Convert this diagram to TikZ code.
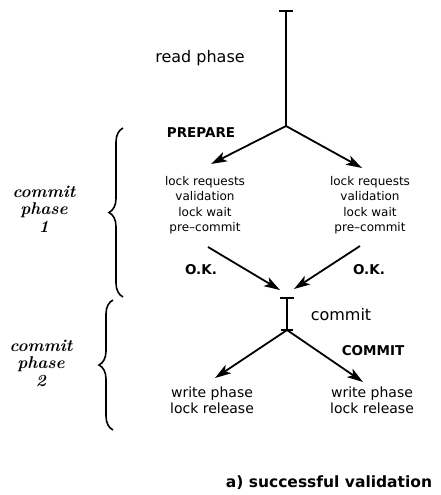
\documentclass[tikz,border=0pt]{standalone}
\usepackage{fontspec}
\newfontfamily\dv{DejaVu Sans}
\usetikzlibrary{arrows.meta,decorations.pathreplacing,calc}
\tikzset{
  conn/.style={line width=1.8pt},
  arr/.style={line width=1.8pt,-{Stealth[length=16pt,width=10pt,inset=4pt]}},
  tickline/.style={line width=1.6pt},
  lbl/.style={inner sep=0pt,font=\dv\fontsize{12}{15.5}\selectfont,align=center},
  lblbig/.style={inner sep=0pt,font=\dv\fontsize{16}{18}\selectfont},
  lblb/.style={inner sep=0pt,font=\dv\bfseries\fontsize{13.5}{16}\selectfont},
  wlbl/.style={inner sep=0pt,font=\dv\fontsize{14}{16}\selectfont,align=center},
  ph/.style={inner sep=0pt,font=\bfseries\itshape\fontsize{17}{17.5}\selectfont,align=center},
  br/.style={line width=1.6pt,decorate,decoration={brace,amplitude=14pt}},
  captxt/.style={inner sep=0pt,font=\dv\bfseries\fontsize{15.5}{18}\selectfont}
}
\begin{document}
\begin{tikzpicture}[x=1pt,y=-1pt]
\useasboundingbox (0,0) rectangle (440,495);
% main spine
\coordinate (top) at (286,11);
\coordinate (b1) at (286,126);
\coordinate (l1) at (211,164);
\coordinate (r1) at (362,168);
\draw[conn] (top) -- (b1);
\draw[tickline] ($(top)+(-7,0)$) -- ($(top)+(7,0)$);
\draw[arr] (b1) -- (l1);
\draw[arr] (b1) -- (r1);
\node[lblbig] (read) at (200,58) {read phase};
\node[lblb] (prep) at (201,133) {PREPARE};
\node[lbl] (lb) at (205,205) {lock requests\\validation\\lock wait\\pre–commit};
\node[lbl] (rb) at (370,205) {lock requests\\validation\\lock wait\\pre–commit};
% OK arrows
\coordinate (c1) at (287,298);
\coordinate (c2) at (287,330);
\coordinate (okls) at (208,247);
\coordinate (okrs) at (360,246);
\coordinate (okle) at (280,290);
\coordinate (okre) at (294,289);
\draw[arr] (okls) -- (okle);
\draw[arr] (okrs) -- (okre);
\node[lblb] (okl) at (201,270) {O.K.};
\node[lblb] (okr) at (369,270) {O.K.};
% commit
\draw[conn] (c1) -- (c2);
\draw[tickline] ($(c1)+(-7,0)$) -- ($(c1)+(7,0)$);
\draw[tickline] ($(c2)+(-6,0)$) -- ($(c2)+(6,0)$);
\node[lblbig] (cm) at (341,315) {commit};
\node[lblb] (CM) at (373,351) {COMMIT};
\coordinate (l2) at (215,378);
\coordinate (r2) at (363,382);
\draw[arr] (c2) -- (l2);
\draw[arr] (c2) -- (r2);
\node[wlbl] (wl) at (212,400) {write phase\\lock release};
\node[wlbl] (wr) at (372,400) {write phase\\lock release};
% braces
\draw[br] (123,297) -- (123,128);
\draw[br] (113,430) -- (113,300);
\node[ph] (p1) at (44,209) {commit\\phase\\1};
\node[ph] (p2) at (41,363) {commit\\phase\\2};
% caption
\node[captxt] (caption) at (329,483) {a) successful validation};
\end{tikzpicture}
\end{document}
